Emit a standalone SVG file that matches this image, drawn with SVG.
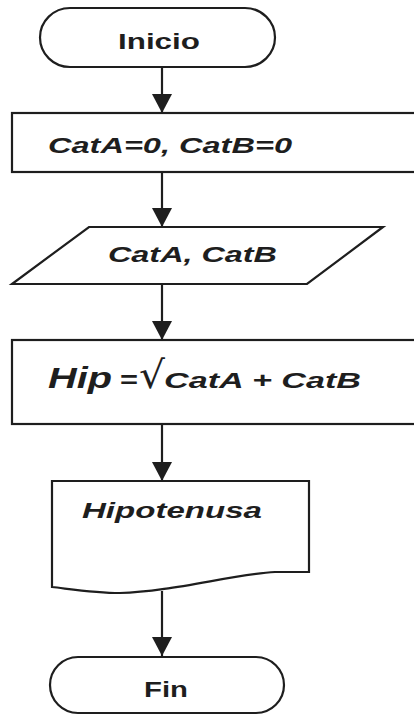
<svg xmlns="http://www.w3.org/2000/svg" width="414" height="715" viewBox="0 0 414 715">
  <style>
    .shape { fill: #ffffff; stroke: #1e1e1e; stroke-width: 2.2; }
    .edge { fill: none; stroke: #1e1e1e; stroke-width: 2.2; }
    .lbl { font-family: "Liberation Sans", Arial, sans-serif; font-weight: bold; fill: #1e1e1e; }
    .it { font-style: italic; }
  </style>
  <defs>
    <marker id="arrow" markerUnits="userSpaceOnUse" markerWidth="22" markerHeight="20" refX="19" refY="10" orient="auto">
      <path d="M0,0 L19,10 L0,20 Z" fill="#1e1e1e"/>
    </marker>
  </defs>
  <rect width="414" height="715" fill="#ffffff"/>

  <g id="connectors">
    <line class="edge" x1="162" y1="67" x2="162" y2="113" marker-end="url(#arrow)"/>
    <line class="edge" x1="162" y1="172" x2="162" y2="227" marker-end="url(#arrow)"/>
    <line class="edge" x1="162" y1="284" x2="162" y2="340" marker-end="url(#arrow)"/>
    <line class="edge" x1="162" y1="424" x2="162" y2="481" marker-end="url(#arrow)"/>
    <line class="edge" x1="162" y1="591" x2="162" y2="656" marker-end="url(#arrow)"/>
  </g>

  <g id="inicio">
    <rect class="shape" x="40" y="8" width="235" height="59" rx="30" ry="29.5"/>
    <text class="lbl" x="118" y="49" font-size="21.5" textLength="82" lengthAdjust="spacingAndGlyphs">Inicio</text>
  </g>

  <g id="init">
    <rect class="shape" x="12" y="113" width="420" height="59"/>
    <text class="lbl it" x="48" y="153" font-size="22.5" textLength="244" lengthAdjust="spacingAndGlyphs">CatA=0, CatB=0</text>
  </g>

  <g id="input">
    <polygon class="shape" points="89,227 383,227 307,284 12,284"/>
    <text class="lbl it" x="108" y="262" font-size="22.5" textLength="169" lengthAdjust="spacingAndGlyphs">CatA, CatB</text>
  </g>

  <g id="calc">
    <rect class="shape" x="12" y="340" width="420" height="84"/>
    <text class="lbl it" x="48" y="388" font-size="29" textLength="64" lengthAdjust="spacingAndGlyphs">Hip</text>
    <text class="lbl" x="120" y="388" font-size="24" textLength="18" lengthAdjust="spacingAndGlyphs">=</text>
    <text x="139" y="388" font-family="'DejaVu Sans', sans-serif" font-size="38" fill="#1e1e1e" textLength="26" lengthAdjust="spacingAndGlyphs">√</text>
    <text class="lbl it" x="164" y="388" font-size="21.5" textLength="197" lengthAdjust="spacingAndGlyphs">CatA + CatB</text>
  </g>

  <g id="output">
    <path class="shape" d="M52,481 L309,481 L309,572 L275,572 C235,574 170,592 120,593 C95,593 70,589 52,587 Z"/>
    <text class="lbl it" x="82" y="518" font-size="22.5" textLength="180" lengthAdjust="spacingAndGlyphs">Hipotenusa</text>
  </g>

  <g id="fin">
    <rect class="shape" x="50" y="657" width="234" height="56" rx="28" ry="28"/>
    <text class="lbl" x="144" y="697" font-size="22.5" textLength="44" lengthAdjust="spacingAndGlyphs">Fin</text>
  </g>
</svg>
